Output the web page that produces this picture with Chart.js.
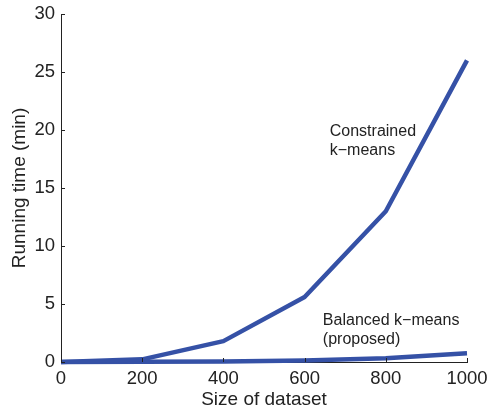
<!DOCTYPE html>
<html>
<head>
<meta charset="utf-8">
<script src="https://cdn.jsdelivr.net/npm/chart.js@4/dist/chart.umd.min.js"></script>
<style>
  html, body { margin: 0; padding: 0; background: #fff; }
  #wrap { width: 488px; height: 412px; }
</style>
</head>
<body>
<div id="wrap"><canvas id="c" width="488" height="412"></canvas></div>
<script>
// Running time vs. dataset size
const datasetSizes = [0, 200, 400, 600, 800, 1000];
const constrainedMinutes = [0, 0.23, 1.8, 5.6, 13.0, 26.0];
const balancedMinutes = [0, 0.02, 0.05, 0.12, 0.32, 0.75];
const xTickValues = [0, 200, 400, 600, 800, 1000];
const yTickValues = [0, 5, 10, 15, 20, 25, 30];
const constrainedLabel = ["Constrained", "k\u2212means"];
const balancedLabel = ["Balanced k\u2212means", "(proposed)"];

const FONT = '"Liberation Sans", Arial, Helvetica, sans-serif';
const AXIS_COLOR = '#222222';
const LINE_COLOR = '#3551a6';

const toPoints = (xs, ys) => xs.map((x, i) => ({ x: x, y: ys[i] }));

// Short inward tick marks on both axes, plus the in-plot series captions
const decorations = {
  id: 'decorations',
  afterDraw(chart) {
    const ctx = chart.ctx;
    const xs = chart.scales.x, ys = chart.scales.y;
    const area = chart.chartArea;
    ctx.save();
    ctx.strokeStyle = AXIS_COLOR;
    ctx.lineWidth = 1;
    ctx.beginPath();
    xTickValues.forEach(v => {
      const px = Math.round(xs.getPixelForValue(v)) + 0.5;
      ctx.moveTo(px, area.bottom);
      ctx.lineTo(px, area.bottom - 4);
    });
    yTickValues.forEach(v => {
      const py = Math.round(ys.getPixelForValue(v)) + 0.5;
      ctx.moveTo(area.left, py);
      ctx.lineTo(area.left + 4, py);
    });
    ctx.stroke();

    ctx.fillStyle = AXIS_COLOR;
    ctx.font = '16px ' + FONT;
    ctx.textAlign = 'left';
    ctx.textBaseline = 'alphabetic';
    const drawLines = (lines, xv, yv) => {
      const px = xs.getPixelForValue(xv);
      const py = ys.getPixelForValue(yv);
      lines.forEach((t, i) => ctx.fillText(t, px, py + i * 19));
    };
    drawLines(constrainedLabel, 662, 19.5);
    drawLines(balancedLabel, 645, 3.2);
    ctx.restore();
  }
};

const plainNumber = v => String(v);

new Chart(document.getElementById('c'), {
  type: 'line',
  data: {
    datasets: [
      {
        data: toPoints(datasetSizes, constrainedMinutes),
        borderColor: LINE_COLOR,
        borderWidth: 4.5,
        pointRadius: 0,
        tension: 0,
        clip: false,
        borderJoinStyle: 'round'
      },
      {
        data: toPoints(datasetSizes, balancedMinutes),
        borderColor: LINE_COLOR,
        borderWidth: 4.5,
        pointRadius: 0,
        tension: 0,
        clip: false,
        borderJoinStyle: 'round'
      }
    ]
  },
  options: {
    responsive: false,
    devicePixelRatio: 1,
    animation: false,
    layout: { padding: { top: 14, right: 21, left: 0, bottom: 0 } },
    plugins: { legend: { display: false }, tooltip: { enabled: false } },
    scales: {
      x: {
        type: 'linear',
        min: 0,
        max: 1000,
        afterBuildTicks: s => { s.ticks = xTickValues.map(v => ({ value: v })); },
        afterFit: s => { s.height = 50; s.paddingLeft = 0; s.paddingRight = 0; },
        grid: { display: false, drawTicks: false },
        border: { display: true, color: AXIS_COLOR, width: 1 },
        ticks: { color: AXIS_COLOR, font: { family: FONT, size: 18.5 }, padding: 6, maxRotation: 0, callback: plainNumber },
        title: { display: true, text: 'Size of dataset', color: AXIS_COLOR, font: { family: FONT, size: 19 }, padding: { top: 0, bottom: 1 } }
      },
      y: {
        type: 'linear',
        min: 0,
        max: 30,
        afterBuildTicks: s => { s.ticks = yTickValues.map(v => ({ value: v })); },
        afterFit: s => { s.width = 61; s.paddingTop = 0; s.paddingBottom = 0; },
        grid: { display: false, drawTicks: false },
        border: { display: true, color: AXIS_COLOR, width: 1 },
        ticks: { color: AXIS_COLOR, font: { family: FONT, size: 18.5 }, padding: 6, callback: plainNumber },
        title: { display: true, text: 'Running time (min)', color: AXIS_COLOR, font: { family: FONT, size: 19 }, padding: { top: 8, bottom: 0 } }
      }
    }
  },
  plugins: [decorations]
});
</script>
</body>
</html>
